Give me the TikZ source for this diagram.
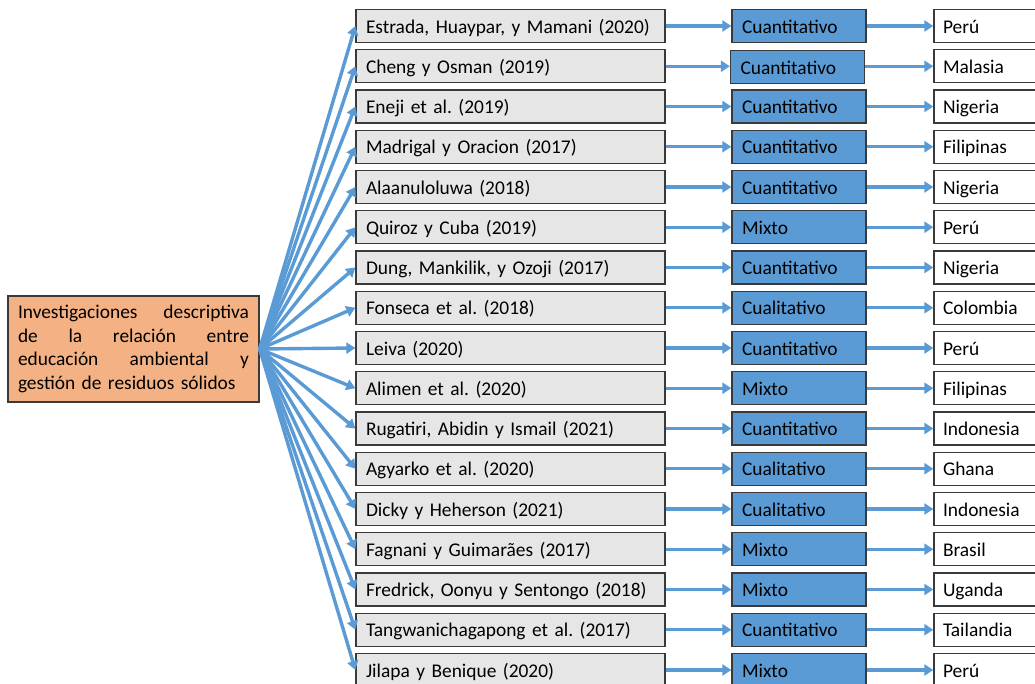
\documentclass[tikz,border=0pt]{standalone}
\usepackage{fontspec}
\setmainfont{Carlito}
\usetikzlibrary{arrows.meta}
\definecolor{grisref}{HTML}{E7E6E6}
\definecolor{azulmet}{HTML}{5B9BD5}
\definecolor{naranja}{HTML}{F4B183}
\definecolor{borde}{HTML}{3A3A3A}
\frenchspacing

\begin{document}
\begin{tikzpicture}[x=1pt,y=-1pt,
    font=\fontsize{19.4}{23.7}\selectfont,
    tema/.style={draw=borde, line width=1.3pt, fill=naranja, text width=231pt,
                 align=left, inner xsep=10pt, minimum height=106pt},
    caja/.style={draw=borde, line width=1.3pt, align=left, inner ysep=0pt,
                 text height=18pt, text depth=3.8pt, minimum height=33pt},
    autor/.style={caja, fill=grisref, text width=289pt, inner xsep=10pt},
    metodo/.style={caja, fill=azulmet, text width=114pt, inner xsep=10pt},
    pais/.style={caja, fill=white, text width=102pt, inner xsep=9pt},
    flecha/.style={draw=azulmet, line width=3.4pt,
                   -{Triangle[length=9pt,width=11pt]}}]
    \useasboundingbox (0,0) rectangle (1035,684);

    \node[tema] at (133.5,349) (inv) {Investigaciones\hfill descriptiva\\
        de\hfill la\hfill relación\hfill entre\\
        educación\hfill ambiental\hfill y\\
        gestión de residuos sólidos};

    \node[autor] at (510.5,26)    (estrada)  {Estrada, Huaypar, y Mamani (2020)};
    \node[autor] at (510.5,66.25) (cheng)    {Cheng y Osman (2019)};
    \node[autor] at (510.5,106.5) (eneji)    {Eneji et al. (2019)};
    \node[autor] at (510.5,146.75)(madrigal) {Madrigal y Oracion (2017)};
    \node[autor] at (510.5,187)   (alaanu)   {Alaanuloluwa (2018)};
    \node[autor] at (510.5,227.25)(quiroz)   {Quiroz y Cuba (2019)};
    \node[autor] at (510.5,267.5) (dung)     {Dung, Mankilik, y Ozoji (2017)};
    \node[autor] at (510.5,307.75)(fonseca)  {Fonseca et al. (2018)};
    \node[autor] at (510.5,348)   (leiva)    {Leiva (2020)};
    \node[autor] at (510.5,388.25)(alimen)   {Alimen et al. (2020)};
    \node[autor] at (510.5,428.5) (rugatiri) {Rugatiri, Abidin y Ismail (2021)};
    \node[autor] at (510.5,468.75)(agyarko)  {Agyarko et al. (2020)};
    \node[autor] at (510.5,509)   (dicky)    {Dicky y Heherson (2021)};
    \node[autor] at (510.5,549.25)(fagnani)  {Fagnani y Guimarães (2017)};
    \node[autor] at (510.5,589.5) (fredrick) {Fredrick, Oonyu y Sentongo (2018)};
    \node[autor] at (510.5,629.75)(tangwa)   {Tangwanichagapong et al. (2017)};
    \node[autor] at (510.5,670)   (jilapa)   {Jilapa y Benique (2020)};

    \node[metodo] at (799,26)     (m-estrada)  {Cuantitativo};
    \node[metodo] at (797.5,67)   (m-cheng)    {Cuantitativo};
    \node[metodo] at (799,106.5)  (m-eneji)    {Cuantitativo};
    \node[metodo] at (799,146.75) (m-madrigal) {Cuantitativo};
    \node[metodo] at (799,187)    (m-alaanu)   {Cuantitativo};
    \node[metodo] at (799,227.25) (m-quiroz)   {Mixto};
    \node[metodo] at (799,267.5)  (m-dung)     {Cuantitativo};
    \node[metodo] at (799,307.75) (m-fonseca)  {Cualitativo};
    \node[metodo] at (799,348)    (m-leiva)    {Cuantitativo};
    \node[metodo] at (799,388.25) (m-alimen)   {Mixto};
    \node[metodo] at (799,428.5)  (m-rugatiri) {Cuantitativo};
    \node[metodo] at (799,468.75) (m-agyarko)  {Cualitativo};
    \node[metodo] at (799,509)    (m-dicky)    {Cualitativo};
    \node[metodo] at (799,549.25) (m-fagnani)  {Mixto};
    \node[metodo] at (799,589.5)  (m-fredrick) {Mixto};
    \node[metodo] at (799,629.75) (m-tangwa)   {Cuantitativo};
    \node[metodo] at (799,670)    (m-jilapa)   {Mixto};

    \node[pais] at (994,26)     (c-estrada)  {Perú};
    \node[pais] at (994,66.25)  (c-cheng)    {Malasia};
    \node[pais] at (994,106.5)  (c-eneji)    {Nigeria};
    \node[pais] at (994,146.75) (c-madrigal) {Filipinas};
    \node[pais] at (994,187)    (c-alaanu)   {Nigeria};
    \node[pais] at (994,227.25) (c-quiroz)   {Perú};
    \node[pais] at (994,267.5)  (c-dung)     {Nigeria};
    \node[pais] at (994,307.75) (c-fonseca)  {Colombia};
    \node[pais] at (994,348)    (c-leiva)    {Perú};
    \node[pais] at (994,388.25) (c-alimen)   {Filipinas};
    \node[pais] at (994,428.5)  (c-rugatiri) {Indonesia};
    \node[pais] at (994,468.75) (c-agyarko)  {Ghana};
    \node[pais] at (994,509)    (c-dicky)    {Indonesia};
    \node[pais] at (994,549.25) (c-fagnani)  {Brasil};
    \node[pais] at (994,589.5)  (c-fredrick) {Uganda};
    \node[pais] at (994,629.75) (c-tangwa)   {Tailandia};
    \node[pais] at (994,670)    (c-jilapa)   {Perú};

    % tema -> autores
    \draw[flecha] (inv.east) -- (estrada.west);
    \draw[flecha] (inv.east) -- (cheng.west);
    \draw[flecha] (inv.east) -- (eneji.west);
    \draw[flecha] (inv.east) -- (madrigal.west);
    \draw[flecha] (inv.east) -- (alaanu.west);
    \draw[flecha] (inv.east) -- (quiroz.west);
    \draw[flecha] (inv.east) -- (dung.west);
    \draw[flecha] (inv.east) -- (fonseca.west);
    \draw[flecha] (inv.east) -- (leiva.west);
    \draw[flecha] (inv.east) -- (alimen.west);
    \draw[flecha] (inv.east) -- (rugatiri.west);
    \draw[flecha] (inv.east) -- (agyarko.west);
    \draw[flecha] (inv.east) -- (dicky.west);
    \draw[flecha] (inv.east) -- (fagnani.west);
    \draw[flecha] (inv.east) -- (fredrick.west);
    \draw[flecha] (inv.east) -- (tangwa.west);
    \draw[flecha] (inv.east) -- (jilapa.west);

    % autores -> metodo
    \draw[flecha] (estrada) -- (m-estrada);
    \draw[flecha] (cheng.east) -- (cheng.east -| m-cheng.west);
    \draw[flecha] (eneji) -- (m-eneji);
    \draw[flecha] (madrigal) -- (m-madrigal);
    \draw[flecha] (alaanu) -- (m-alaanu);
    \draw[flecha] (quiroz) -- (m-quiroz);
    \draw[flecha] (dung) -- (m-dung);
    \draw[flecha] (fonseca) -- (m-fonseca);
    \draw[flecha] (leiva) -- (m-leiva);
    \draw[flecha] (alimen) -- (m-alimen);
    \draw[flecha] (rugatiri) -- (m-rugatiri);
    \draw[flecha] (agyarko) -- (m-agyarko);
    \draw[flecha] (dicky) -- (m-dicky);
    \draw[flecha] (fagnani) -- (m-fagnani);
    \draw[flecha] (fredrick) -- (m-fredrick);
    \draw[flecha] (tangwa) -- (m-tangwa);
    \draw[flecha] (jilapa) -- (m-jilapa);

    % metodo -> pais
    \draw[flecha] (m-estrada) -- (c-estrada);
    \draw[flecha] (m-cheng.east |- c-cheng.west) -- (c-cheng.west);
    \draw[flecha] (m-eneji) -- (c-eneji);
    \draw[flecha] (m-madrigal) -- (c-madrigal);
    \draw[flecha] (m-alaanu) -- (c-alaanu);
    \draw[flecha] (m-quiroz) -- (c-quiroz);
    \draw[flecha] (m-dung) -- (c-dung);
    \draw[flecha] (m-fonseca) -- (c-fonseca);
    \draw[flecha] (m-leiva) -- (c-leiva);
    \draw[flecha] (m-alimen) -- (c-alimen);
    \draw[flecha] (m-rugatiri) -- (c-rugatiri);
    \draw[flecha] (m-agyarko) -- (c-agyarko);
    \draw[flecha] (m-dicky) -- (c-dicky);
    \draw[flecha] (m-fagnani) -- (c-fagnani);
    \draw[flecha] (m-fredrick) -- (c-fredrick);
    \draw[flecha] (m-tangwa) -- (c-tangwa);
    \draw[flecha] (m-jilapa) -- (c-jilapa);
\end{tikzpicture}
\end{document}
